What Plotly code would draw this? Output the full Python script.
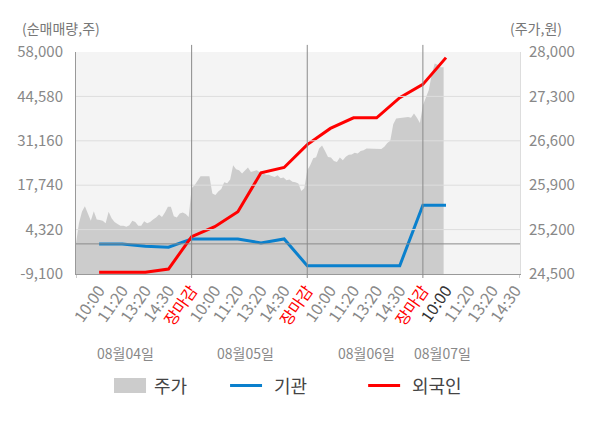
import plotly.graph_objects as go

# axis slots per trading day
slot_labels = ["10:00", "11:20", "13:20", "14:30", "장마감"]
day_labels = ["08월04일", "08월05일", "08월06일", "08월07일"]

# 주가 (right axis), sampled across each day
price_d1 = [24980, 25300, 25480, 25570, 25455, 25340, 25490, 25360, 25350, 25340,
            25300, 25480, 25380, 25320, 25290, 25260, 25260, 25245, 25270, 25340,
            25320, 25260, 25260, 25330, 25300, 25320, 25360, 25390, 25440, 25400,
            25470, 25560, 25560, 25410, 25390, 25455, 25470, 25445, 25400]
price_d2 = [25850, 25900, 25970, 26040, 26040, 26040, 26040, 25770, 25745, 25800,
            25840, 25945, 25930, 25990, 26215, 26150, 26135, 26085, 26125, 26180,
            26110, 26125, 26135, 26105, 26115, 26065, 26065, 26045, 26030, 26055,
            26010, 26020, 25980, 25990, 25955, 25945, 25925, 25810, 25850]
price_d3 = [26135, 26215, 26325, 26340, 26480, 26525, 26440, 26345, 26335, 26280,
            26265, 26335, 26295, 26350, 26380, 26385, 26410, 26400, 26440, 26450,
            26480, 26480, 26480, 26475, 26470, 26470, 26505, 26565, 26600, 26860,
            26950, 26955, 26965, 26970, 26975, 26965, 27030, 26965, 26880]
price_d4 = [27160, 27290, 27400, 27650, 27820, 27800, 27760, 27760]

# cumulative net buying (left axis), one value per slot from 08/04 10:00
inst = [0, 0, -700, -1000, 1500, 1500, 1500, 300, 1500, -6600,
        -6600, -6600, -6600, -6600, 11700, 11700]
foreign = [-8600, -8600, -8600, -7600, 2200, 5200, 9700, 21500, 23100, 30000,
           34900, 38100, 38100, 44200, 48200, 56300]

vol_ticks = [-9100, 4320, 17740, 31160, 44580, 58000]
price_ticks = [24500, 25200, 25900, 26600, 27300, 28000]

names = ["주가", "기관", "외국인"]
colors = ["#cccccc", "#0a80cd", "#ff0000"]

SLOTS = len(slot_labels)
STEP = SLOTS / 39
XMAX = 19.2

price_x, price_y = [], []
for d, day in enumerate([price_d1, price_d2, price_d3, price_d4]):
    for i, v in enumerate(day):
        price_x.append(d * SLOTS + i * STEP)
        price_y.append(v)
flow_x = list(range(1, len(inst) + 1))

tickvals, ticktext = [], []
for d in range(len(day_labels)):
    for j, lab in enumerate(slot_labels):
        pos = d * SLOTS + j + 1
        if pos > 19:
            continue
        tickvals.append(pos)
        if lab == "장마감":
            ticktext.append("<span style='color:#ff0000'>%s</span>" % lab)
        elif pos == 16:
            ticktext.append("<span style='color:#333333'>%s</span>" % lab)
        else:
            ticktext.append(lab)

FONT = "Noto Sans CJK KR"
fig = go.Figure()
fig.add_trace(go.Scatter(x=price_x, y=price_y, mode="lines", fill="tozeroy",
                         fillcolor=colors[0], line=dict(width=0, color=colors[0]),
                         name=names[0], yaxis="y", showlegend=False))
fig.add_trace(go.Scatter(x=flow_x, y=inst, mode="lines", name=names[1], yaxis="y2",
                         line=dict(color=colors[1], width=3), showlegend=False))
fig.add_trace(go.Scatter(x=flow_x, y=foreign, mode="lines", name=names[2], yaxis="y2",
                         line=dict(color=colors[2], width=3), showlegend=False))

shapes = []
# horizontal grid over the area
for v in vol_ticks[1:-1]:
    shapes.append(dict(type="line", xref="paper", yref="y2", x0=0, x1=1, y0=v, y1=v,
                       line=dict(color="#dddddd", width=1), layer="above"))
shapes.append(dict(type="line", xref="paper", yref="y2", x0=0, x1=1, y0=0, y1=0,
                   line=dict(color="#8a8a8a", width=1), layer="above"))
# day separators and bottom ticks
for d in range(1, len(day_labels)):
    shapes.append(dict(type="line", xref="x", yref="paper", x0=d * SLOTS, x1=d * SLOTS,
                       y0=-0.018, y1=1.032, line=dict(color="#8a8a8a", width=1), layer="above"))
for xv in [0, XMAX]:
    shapes.append(dict(type="line", xref="x", yref="paper", x0=xv, x1=xv,
                       y0=-0.018, y1=0, line=dict(color="#999999", width=1), layer="above"))

# legend
shapes.append(dict(type="rect", xref="paper", yref="paper", x0=0.0856, x1=0.1577,
                   y0=-0.536, y1=-0.468, fillcolor=colors[0], line=dict(width=0)))
for (x0, x1), c in zip([(0.347, 0.419), (0.658, 0.730)], colors[1:]):
    shapes.append(dict(type="line", xref="paper", yref="paper", x0=x0, x1=x1,
                       y0=-0.502, y1=-0.502, line=dict(color=c, width=3)))

annotations = []
for xp, n in zip([0.171, 0.441, 0.752], names):
    annotations.append(dict(text=n, xref="paper", yref="paper", x=xp, y=-0.502,
                            xanchor="left", yanchor="middle", showarrow=False,
                            font=dict(size=18, color="#444444")))
for xd, lab in zip([2.15, 7.35, 12.55, 15.85], day_labels):
    annotations.append(dict(text=lab, xref="x", yref="paper", x=xd, y=-0.356,
                            xanchor="center", yanchor="middle", showarrow=False,
                            font=dict(size=14, color="#888888")))
annotations.append(dict(text="(순매매량,주)", xref="paper", yref="paper", x=-0.034, y=1.052,
                        xanchor="center", yanchor="bottom", showarrow=False,
                        font=dict(size=14, color="#777777")))
annotations.append(dict(text="(주가,원)", xref="paper", yref="paper", x=1.035, y=1.052,
                        xanchor="center", yanchor="bottom", showarrow=False,
                        font=dict(size=14, color="#777777")))

# page body has an 8px margin, so the figure is drawn 8px smaller
fig.update_layout(
    width=592, height=420,
    margin=dict(l=68, r=80, t=44, b=154),
    paper_bgcolor="white", plot_bgcolor="#f4f4f4",
    font=dict(family=FONT, color="#888888"),
    showlegend=False,
    xaxis=dict(range=[0, XMAX], tickvals=tickvals, ticktext=ticktext, tickangle=-55,
               tickfont=dict(size=16, color="#888888"), showgrid=False, zeroline=False,
               showline=True, linecolor="#999999", ticks="", automargin=False),
    yaxis=dict(side="right", range=[price_ticks[0], price_ticks[-1]], tickvals=price_ticks,
               ticktext=["{:,}".format(v) for v in price_ticks], showgrid=False,
               zeroline=False, showline=True, linecolor="#dddddd", automargin=False,
               tickfont=dict(size=15, color="#888888"), ticklabelstandoff=5),
    yaxis2=dict(side="left", overlaying="y", range=[vol_ticks[0], vol_ticks[-1]],
                tickvals=vol_ticks, ticktext=["{:,}".format(v) for v in vol_ticks],
                showgrid=False, zeroline=False, showline=True, linecolor="#999999",
                automargin=False, tickfont=dict(size=15, color="#888888"),
                ticklabelstandoff=9),
    shapes=shapes, annotations=annotations,
)

fig.write_html("out.html")
